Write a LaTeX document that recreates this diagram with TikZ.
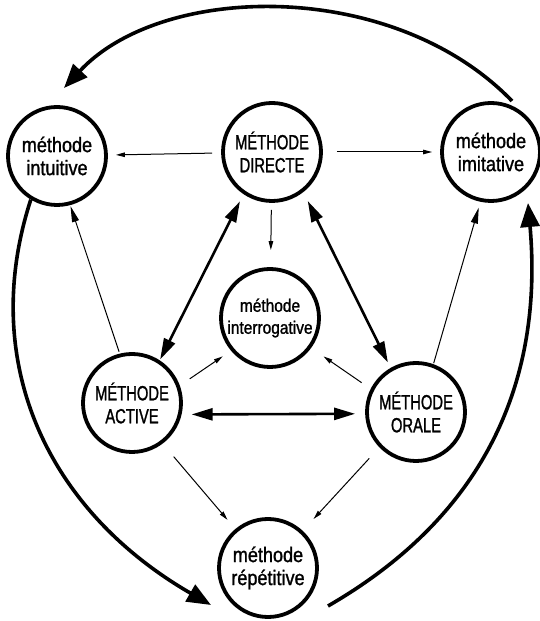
\documentclass[tikz,border=0pt]{standalone}
\usepackage{fontspec}
\setmainfont{Liberation Sans}
\newfontfamily\capsfont{Liberation Sans}[FakeStretch=0.72,FakeBold=1.2]
\newfontfamily\lowfont{Liberation Sans}[FakeStretch=0.86,FakeBold=1.2]
\usetikzlibrary{arrows.meta}
\begin{document}
\begin{tikzpicture}[x=1pt,y=1pt,
  meth/.style={circle,draw,line width=3.8pt,minimum size=98pt,inner sep=0pt,align=center},
  capsnode/.style={meth,font=\capsfont\fontsize{20.5}{23}\selectfont},
  lownode/.style={meth,font=\lowfont\fontsize{21}{23}\selectfont},
  thinarr/.style={line width=1pt,-{Triangle[length=9pt,width=4.5pt]}},
  longarr/.style={line width=1pt,-{Triangle[length=16pt,width=7pt]}},
  dblarr/.style={line width=2.6pt,{Triangle[length=21pt,width=12pt]}-{Triangle[length=21pt,width=12pt]}},
  bigarc/.style={line width=3.6pt,-{Triangle[length=24pt,width=19pt]}}]
\useasboundingbox (0,0) rectangle (539,621);

\node[lownode]  (intuitive) at (57,465)  {méthode\\intuitive};
\node[capsnode] (directe)   at (272,469) {MÉTHODE\\DIRECTE};
\node[lownode]  (imitative) at (491,469) {méthode\\imitative};
\node[lownode,font=\lowfont\fontsize{18}{22}\selectfont] (interrog) at (270,303) {méthode\\interrogative};
\node[capsnode] (active)    at (132,218) {MÉTHODE\\ACTIVE};
\node[capsnode] (orale)     at (416,209) {MÉTHODE\\ORALE};
\node[lownode]  (repet)     at (268,53)  {méthode\\répétitive};

% thin arrows
\draw[thinarr,shorten <=9pt,shorten >=8pt] (directe) -- (intuitive);
\draw[thinarr,shorten <=14pt,shorten >=8pt] (directe) -- (imitative);
\draw[thinarr,shorten <=7pt,shorten >=17pt] (directe) -- (interrog);
\draw[longarr,shorten <=2pt,shorten >=1pt] (active.104) -- (intuitive.285);
\draw[longarr,shorten <=1pt,shorten >=6pt] (orale.70) -- (imitative.258);
\draw[thinarr,shorten <=12pt,shorten >=10pt] (active.20) -- (interrog.220);
\draw[thinarr,shorten <=11pt,shorten >=15pt] (orale.153) -- (interrog.324);
\draw[thinarr,shorten <=17pt,shorten >=12pt] (active.-53) -- (repet.130);
\draw[thinarr,shorten <=15pt,shorten >=16pt] (orale.224) -- (repet.47);

% thick double arrows
\draw[dblarr,shorten <=8pt,shorten >=1pt] (directe.236) -- (active.57);
\draw[dblarr,shorten <=10pt,shorten >=6pt] (directe.308) -- (orale.120);
\draw[dblarr,shorten <=10pt,shorten >=10pt] (active.-13) -- (orale.182);

% big outer arcs
\draw[bigarc] ([shift={(21pt,51pt)}]imitative.center)
  .. controls +(134:170pt) and +(47:145pt) .. ([shift={(7pt,68pt)}]intuitive.center);
\draw[bigarc] (intuitive.239)
  .. controls +(252:170pt) and +(150:190pt) .. ([shift={(-57pt,-37pt)}]repet.center);
\draw[bigarc] ([shift={(60pt,-38pt)}]repet.center)
  .. controls +(30:190pt) and +(275:170pt) .. ([shift={(37pt,-51pt)}]imitative.center);
\end{tikzpicture}
\end{document}
